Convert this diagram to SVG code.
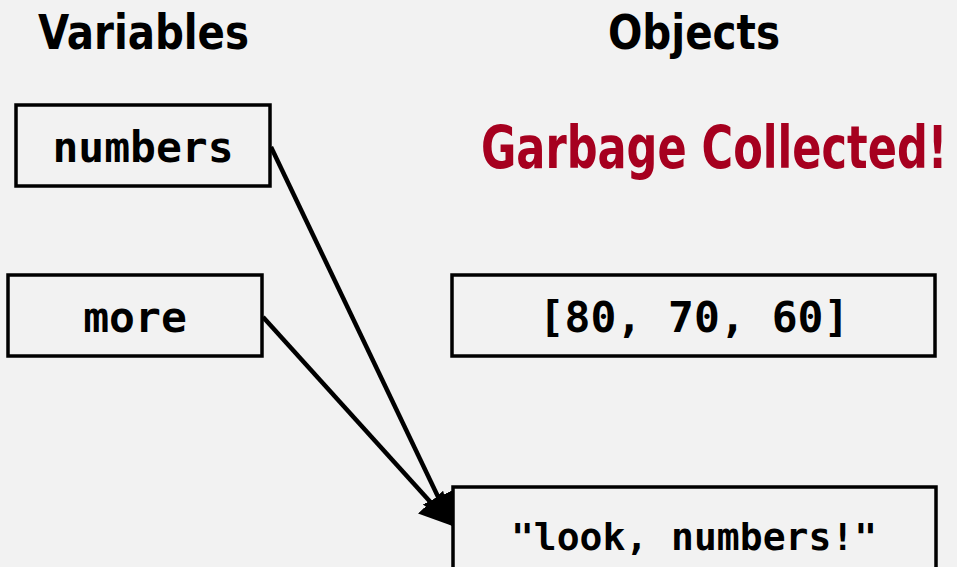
<svg xmlns="http://www.w3.org/2000/svg" width="957" height="567" viewBox="0 0 957 567">
  <defs>
    <!-- filled triangular head; tip sits 10px past the path end -->
    <marker id="arrow" viewBox="0 0 10 10" refX="6.9" refY="5" markerWidth="32" markerHeight="34" markerUnits="userSpaceOnUse" orient="auto" preserveAspectRatio="none">
      <path d="M0,0 L10,5 L0,10 z" fill="#000"/>
    </marker>
    <style>
      .box { fill: none; stroke: #000; stroke-width: 3.5; }
      .code { font-family: "DejaVu Sans Mono", "Liberation Mono", monospace; font-weight: bold; font-size: 43px; fill: #000; text-anchor: middle; }
      .head { font-family: "DejaVu Sans Condensed", "DejaVu Sans", "Liberation Sans", sans-serif; font-stretch: condensed; font-weight: bold; fill: #000; }
      .edge { stroke: #000; stroke-width: 4.5; fill: none; }
    </style>
  </defs>
  <rect width="957" height="567" fill="#f2f2f2"/>

  <!-- column headings -->
  <text class="head" x="38" y="49" font-size="48" textLength="211" lengthAdjust="spacingAndGlyphs">Variables</text>
  <text class="head" x="608" y="49" font-size="48" textLength="172" lengthAdjust="spacingAndGlyphs">Objects</text>
  <text id="gc-label" class="head" transform="translate(481,168) scale(0.8,1)" x="0" y="0" font-size="58" style="fill:#a6001f" textLength="583" lengthAdjust="spacingAndGlyphs">Garbage Collected!</text>

  <!-- variables -->
  <g id="var-numbers">
    <rect class="box" x="16" y="105" width="254" height="81"/>
    <text class="code" x="143" y="162">numbers</text>
  </g>
  <g id="var-more">
    <rect class="box" x="8" y="275" width="254" height="81"/>
    <text class="code" x="135" y="332">more</text>
  </g>

  <!-- objects -->
  <g id="obj-list">
    <rect class="box" x="452" y="275" width="483" height="81"/>
    <text class="code" x="694" y="332">[80, 70, 60]</text>
  </g>
  <g id="obj-string">
    <rect class="box" x="453" y="487" width="483" height="100"/>
    <text class="code" x="694" y="550" style="font-size:38px">"look, numbers!"</text>
  </g>

  <!-- references -->
  <g id="connectors">
    <path class="edge" d="M271,147 L447.7,517" marker-end="url(#arrow)"/>
    <path class="edge" d="M263,317 L445.3,518.5" marker-end="url(#arrow)"/>
  </g>
</svg>
